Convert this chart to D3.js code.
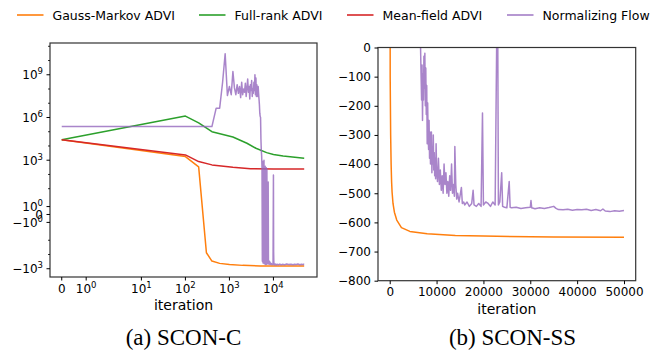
<!DOCTYPE html>
<html>
<head>
<meta charset="utf-8">
<script src="https://cdn.jsdelivr.net/npm/d3@7"></script>
<style>
  body { margin: 0; background: #fff; }
  text { font-family: "DejaVu Sans", sans-serif; fill: #000; }
</style>
</head>
<body>
<svg id="chart" width="652" height="351"></svg>
<script>
const seriesNames = ["Gauss-Markov ADVI", "Full-rank ADVI", "Mean-field ADVI", "Normalizing Flow"];
const seriesColors = ["#ff7f0e", "#2ca02c", "#d62728", "#9467bd"];

// ---- (a) SCON-C : [iteration, value], symlog axes ----
const gaussMarkovA = [[0, 2.7e4], [100, 1.8e3], [200, 340], [300, -75], [400, -290], [600, -420],
  [1000, -500], [2000, -580], [5000, -630], [10000, -645], [50000, -650]];
const fullRankA = [[0, 2.7e4], [100, 1.25e6], [200, 4.2e5], [400, 1.0e5], [1200, 4.3e4], [2500, 1.56e4],
  [4000, 6.9e3], [7000, 3.4e3], [10000, 2.5e3], [16600, 2.0e3], [50000, 1.4e3]];
const meanFieldA = [[0, 2.7e4], [100, 2.35e3], [200, 800], [400, 470], [1200, 320], [3000, 250],
  [10000, 245], [50000, 245]];
const normFlowA = [[0, 2.3e5], [400, 2.3e5], [500, 4.5e6], [600, 4.5e6], [700, 3e8], [800, 3e10],
  [900, 3.5e7], [1000, 1.5e8], [1100, 4e7], [1200, 1.7e9], [1300, 1.2e8], [1400, 4e7], [1500, 2e8],
  [1600, 5e7], [1700, 1.5e8], [1800, 2.5e7], [1900, 3e8], [2000, 4e7], [2100, 1e8], [2200, 6e7],
  [2300, 2.5e8], [2400, 3e7], [2500, 1.2e8], [2600, 5e8], [2700, 6e7], [2800, 1.5e8], [2900, 2e7],
  [3000, 2e8], [3100, 8e7], [3200, 4e8], [3300, 3e7], [3400, 1e8], [3500, 5e7], [3600, 3e8],
  [3700, 8e7], [3800, 1e9], [3900, 4e7], [4000, 6e8], [4100, 3e7], [4200, 2e8], [4300, 1e8],
  [4400, 3e7], [4500, 1.5e8], [4600, 5e7], [4700, 2e7], [4800, 8e6], [4900, 2e6], [5000, 1.2e6],
  [5100, 1e6], [5200, 3e4], [5300, 5e3], [5400, 2000], [5500, 300], [5600, -300], [5700, 800],
  [5800, -400], [5900, 300], [6000, -250], [6100, 1000], [6200, -450], [6300, 200], [6400, -350],
  [6500, 380], [6600, -500], [6700, 150], [6800, -400], [6900, 300], [7000, -480], [7100, 250],
  [7200, -350], [7300, -450], [7400, -300], [7500, -420], [7600, 30], [7700, -460], [7800, -380],
  [7900, -470], [8000, -400], [8100, -300], [8200, -480], [8300, -420], [8400, -350], [8500, -470],
  [8600, -430], [8700, -490], [8800, -450], [8900, -500], [9000, -430], [9200, -480], [9400, -510],
  [9600, -460], [9800, -520], [10000, 90], [10100, -60], [10200, -300], [10300, -480], [10600, -520],
  [11000, -460], [11500, -540], [12000, -480], [13000, -520], [14000, -470], [15000, -530],
  [16000, -490], [18000, -520], [20000, -470], [22000, -510], [25000, -480], [28000, -520],
  [30000, -490], [33000, -510], [36000, -470], [40000, -520], [43000, -490], [46000, -510],
  [48000, -480], [50000, -500]];
const xLimA = [-0.48, 97700];
const yLimA = [-3800, 1.7e11];
const xTicksA = [0, 1, 10, 100, 1000, 10000];
const yTicksA = [-1000, -1, 0, 1, 1000, 1e6, 1e9];
const yMinorA = [-100, -10, 10, 100, 1e4, 1e5, 1e7, 1e8, 1e10, 1e11];

// ---- (b) SCON-SS : [iteration, value], linear axes ----
const gaussMarkovB = [[0, 3000], [100, -100], [200, -300], [300, -400], [400, -460], [500, -495],
  [700, -535], [1000, -565], [1500, -592], [2500, -618], [4300, -631], [8000, -639], [14000, -645],
  [20000, -647], [35000, -650], [50000, -651]];
const normFlowB = [[0, 2000], [6000, 500], [6700, -100], [6800, -180], [6900, -60], [7000, -250],
  [7100, -90], [7200, -180], [7300, -30], [7400, -140], [7500, -20], [7600, -200], [7700, -70],
  [7800, -230], [7900, -130], [8000, -330], [8100, -190], [8200, -300], [8300, -350], [8400, -250],
  [8500, -380], [8600, -290], [8700, -400], [8800, -340], [8900, -290], [9000, -430], [9100, -350],
  [9200, -400], [9300, -300], [9400, -420], [9500, -360], [9600, -440], [9700, -380], [9800, -450],
  [9900, -330], [10000, -410], [10200, -460], [10400, -380], [10600, -470], [10800, -420],
  [11000, -490], [11200, -440], [11400, -500], [11600, -400], [11800, -470], [12000, -430],
  [12200, -500], [12400, -460], [12600, -510], [12800, -440], [13000, -490], [13200, -400],
  [13400, -500], [13600, -470], [13800, -510], [13900, -340], [14100, -470], [14300, -520],
  [14500, -500], [14800, -530], [15000, -510], [15300, -480], [15500, -535], [15800, -530],
  [16000, -540], [16500, -530], [17000, -545], [17500, -535], [17800, -490], [18000, -540],
  [18500, -545], [19000, -535], [19500, -545], [19800, -225], [20000, -540], [20500, -530],
  [21000, -535], [21500, -545], [22000, -530], [22500, -540], [23000, 300], [23200, -540],
  [23500, -530], [23900, -430], [24100, -545], [24500, -548], [25000, -550], [25500, -460],
  [25700, -548], [26000, -550], [27000, -548], [28000, -552], [29000, -550], [30000, -548],
  [30150, -525], [30300, -550], [31000, -553], [32000, -550], [33000, -552], [34000, -549],
  [35000, -545], [35500, -552], [36000, -556], [37000, -557], [38000, -555], [39000, -558],
  [40000, -556], [41000, -557], [42000, -555], [43000, -559], [44000, -556], [45000, -560],
  [45500, -554], [46000, -561], [47000, -563], [48000, -560], [49000, -562], [50000, -559]];
const xLimB = [-2500, 52500];
const yLimB = [-800, 0];
const xTicksB = [0, 10000, 20000, 30000, 40000, 50000];
const yTicksB = [0, -100, -200, -300, -400, -500, -600, -700, -800];

const svg = d3.select("#chart");
const minus = "\u2212";

// matplotlib style symlog (linthresh 2, linscale 1), in decades
function symlog(v) {
  const c = 2, adj = 1 / (1 - 0.1), a = Math.abs(v);
  return a <= c ? v * adj / c : Math.sign(v) * (adj + Math.log10(a / c));
}

function powLabel(sel, v) {
  if (v === 0) { sel.text("0"); return; }
  const k = Math.round(Math.log10(Math.abs(v)));
  sel.append("tspan").text((v < 0 ? minus : "") + "10");
  sel.append("tspan").attr("dy", -5).style("font-size", "8.5px").text(k);
}

// ========= LEGEND =========
const legendX = [17, 199, 347, 507];
seriesNames.forEach((name, i) => {
  svg.append("line")
    .attr("x1", legendX[i]).attr("x2", legendX[i] + 26.5)
    .attr("y1", 15).attr("y2", 15)
    .attr("stroke", seriesColors[i]).attr("stroke-width", 1.6)
    .attr("stroke-opacity", i === 3 ? 0.85 : 1);
  svg.append("text")
    .attr("x", legendX[i] + 35.5).attr("y", 19.5)
    .style("font-size", "12.5px")
    .text(name);
});

// ========= PANEL A =========
const boxA = { x0: 50, x1: 317, y0: 43, y1: 277 };
const xA = d3.scaleLinear().domain(xLimA.map(symlog)).range([boxA.x0, boxA.x1]);
const yA = d3.scaleLinear().domain(yLimA.map(symlog)).range([boxA.y1, boxA.y0]);

svg.append("clipPath").attr("id", "clipA").append("rect")
  .attr("x", boxA.x0).attr("y", boxA.y0)
  .attr("width", boxA.x1 - boxA.x0).attr("height", boxA.y1 - boxA.y0);

const lineA = d3.line().x(d => xA(symlog(d[0]))).y(d => yA(symlog(d[1])));
const gA = svg.append("g").attr("clip-path", "url(#clipA)");
[gaussMarkovA, fullRankA, meanFieldA, normFlowA].forEach((data, i) => {
  gA.append("path")
    .attr("d", lineA(data))
    .attr("fill", "none")
    .attr("stroke", seriesColors[i])
    .attr("stroke-width", 1.5)
    .attr("stroke-opacity", i === 3 ? 0.8 : 1)
    .attr("stroke-linejoin", "round");
});

svg.append("rect")
  .attr("x", boxA.x0).attr("y", boxA.y0)
  .attr("width", boxA.x1 - boxA.x0).attr("height", boxA.y1 - boxA.y0)
  .attr("fill", "none").attr("stroke", "#333").attr("stroke-width", 1.2);

xTicksA.forEach(v => {
  const x = xA(symlog(v));
  svg.append("line").attr("x1", x).attr("x2", x)
    .attr("y1", boxA.y1).attr("y2", boxA.y1 + 3.5).attr("stroke", "#000");
  svg.append("text").attr("x", x).attr("y", boxA.y1 + 15.5)
    .attr("text-anchor", "middle").style("font-size", "12px")
    .call(powLabel, v);
});
yTicksA.forEach(v => {
  const y = yA(symlog(v));
  svg.append("line").attr("x1", boxA.x0 - 3.5).attr("x2", boxA.x0)
    .attr("y1", y).attr("y2", y).attr("stroke", "#000");
  svg.append("text").attr("x", boxA.x0 - 7).attr("y", y + 4.3)
    .attr("text-anchor", "end").style("font-size", "12px")
    .call(powLabel, v);
});
yMinorA.forEach(v => {
  const y = yA(symlog(v));
  svg.append("line").attr("x1", boxA.x0 - 2).attr("x2", boxA.x0)
    .attr("y1", y).attr("y2", y).attr("stroke", "#000").attr("stroke-width", 0.8);
});

svg.append("text")
  .attr("x", (boxA.x0 + boxA.x1) / 2).attr("y", boxA.y1 + 33)
  .attr("text-anchor", "middle").style("font-size", "14px")
  .text("iteration");

// ========= PANEL B =========
const boxB = { x0: 378, x1: 635.7, y0: 47.5, y1: 280.7 };
const xB = d3.scaleLinear().domain(xLimB).range([boxB.x0, boxB.x1]);
const yB = d3.scaleLinear().domain(yLimB).range([boxB.y1, boxB.y0]);

svg.append("clipPath").attr("id", "clipB").append("rect")
  .attr("x", boxB.x0).attr("y", boxB.y0)
  .attr("width", boxB.x1 - boxB.x0).attr("height", boxB.y1 - boxB.y0);

const lineB = d3.line().x(d => xB(d[0])).y(d => yB(d[1]));
const gB = svg.append("g").attr("clip-path", "url(#clipB)");
[[gaussMarkovB, 0], [normFlowB, 3]].forEach(([data, i]) => {
  gB.append("path")
    .attr("d", lineB(data))
    .attr("fill", "none")
    .attr("stroke", seriesColors[i])
    .attr("stroke-width", 1.5)
    .attr("stroke-opacity", i === 3 ? 0.8 : 1)
    .attr("stroke-linejoin", "round");
});

svg.append("rect")
  .attr("x", boxB.x0).attr("y", boxB.y0)
  .attr("width", boxB.x1 - boxB.x0).attr("height", boxB.y1 - boxB.y0)
  .attr("fill", "none").attr("stroke", "#333").attr("stroke-width", 1.2);

const axisXB = d3.axisBottom(xB).tickValues(xTicksB).tickSize(3.5).tickPadding(3.5)
  .tickFormat(d3.format("d"));
svg.append("g").attr("transform", `translate(0,${boxB.y1})`).call(axisXB)
  .call(g => g.select(".domain").remove())
  .selectAll("text").style("font-size", "12px").attr("font-family", null);

const axisYB = d3.axisLeft(yB).tickValues(yTicksB).tickSize(3.5).tickPadding(3.5)
  .tickFormat(d => d < 0 ? minus + Math.abs(d) : "0");
svg.append("g").attr("transform", `translate(${boxB.x0},0)`).call(axisYB)
  .call(g => g.select(".domain").remove())
  .selectAll("text").style("font-size", "12px").attr("font-family", null);

svg.append("text")
  .attr("x", (boxB.x0 + boxB.x1) / 2).attr("y", boxB.y1 + 33)
  .attr("text-anchor", "middle").style("font-size", "14px")
  .text("iteration");

// ========= CAPTIONS =========
svg.append("text")
  .attr("x", 183.5).attr("y", 345)
  .attr("text-anchor", "middle")
  .style("font-family", "'Liberation Serif', serif").style("font-size", "23px")
  .text("(a) SCON-C");
svg.append("text")
  .attr("x", 512.5).attr("y", 345)
  .attr("text-anchor", "middle")
  .style("font-family", "'Liberation Serif', serif").style("font-size", "23px")
  .text("(b) SCON-SS");
</script>
</body>
</html>
